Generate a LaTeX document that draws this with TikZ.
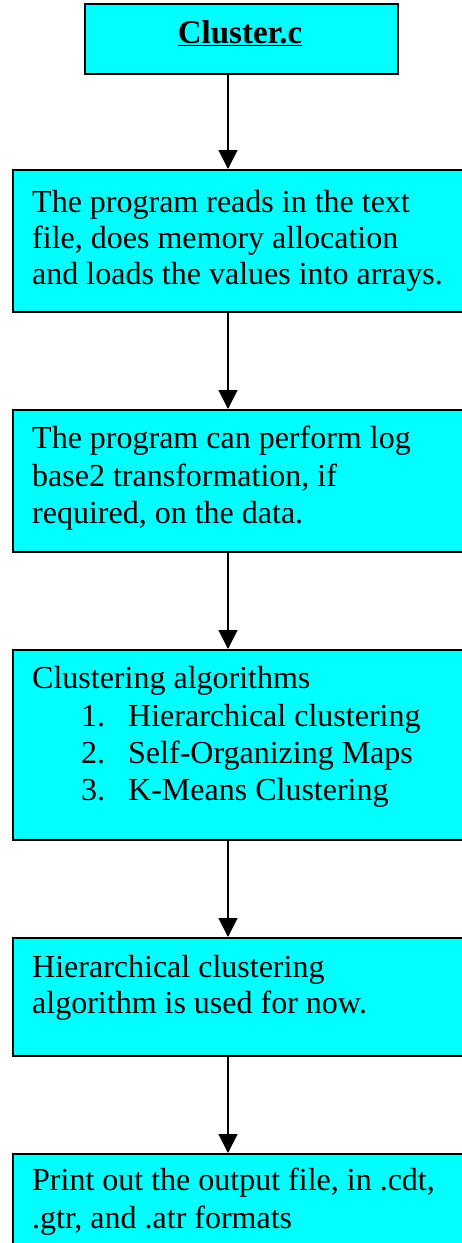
\documentclass[tikz,border=0pt]{standalone}
\usepackage{fontspec}
\setmainfont{Liberation Serif}
\usetikzlibrary{arrows.meta}
\definecolor{cyan}{RGB}{0,255,255}
\tikzset{
  box/.style={draw=black, line width=2pt, fill=cyan, rectangle, inner sep=0pt, anchor=north west},
  txt/.style={anchor=base west, inner sep=0pt, font=\fontsize{32}{36}\selectfont},
  arr/.style={line width=1.6pt, -{Triangle[width=19pt,length=19pt]}},
}
\begin{document}
\begin{tikzpicture}[x=1pt,y=-1pt]
\useasboundingbox (0,0) rectangle (461,1243);
\node[box, minimum width=313pt, minimum height=70pt] (b0) at (83.5,3) {};
\node[box, minimum width=463pt, minimum height=142pt] (b1) at (12,169) {};
\node[box, minimum width=463pt, minimum height=142pt] (b2) at (12,409) {};
\node[box, minimum width=463pt, minimum height=190pt] (b3) at (12,649) {};
\node[box, minimum width=463pt, minimum height=118pt] (b4) at (12,937) {};
\node[box, minimum width=463pt, minimum height=120pt] (b5) at (12,1153) {};
\coordinate (ax) at (228,0);
\draw[arr] (b0.south -| ax) -- (b1.north -| ax);
\draw[arr] (b1.south -| ax) -- (b2.north -| ax);
\draw[arr] (b2.south -| ax) -- (b3.north -| ax);
\draw[arr] (b3.south -| ax) -- (b4.north -| ax);
\draw[arr] (b4.south -| ax) -- (b5.north -| ax);
\node[anchor=base, inner sep=0pt, font=\fontsize{33}{40}\selectfont\bfseries] (t0) at (240,43) {\underline{Cluster.c}};
\node[txt] (t1a) at (32,212) {The program reads in the text};
\node[txt] (t1b) at (32,248) {file, does memory allocation};
\node[txt] (t1c) at (32,284) {and loads the values into arrays.};
\node[txt] (t2a) at (32,448) {The program can perform log};
\node[txt] (t2b) at (32,486) {base2 transformation, if};
\node[txt] (t2c) at (32,523) {required, on the data.};
\node[txt] (t3a) at (32,688) {Clustering algorithms};
\node[txt] (n1) at (81,726) {1.};
\node[txt] (t3b) at (128,726) {Hierarchical clustering};
\node[txt] (n2) at (81,763) {2.};
\node[txt] (t3c) at (128,763) {Self-Organizing Maps};
\node[txt] (n3) at (81,800) {3.};
\node[txt] (t3d) at (128,800) {K-Means Clustering};
\node[txt] (t4a) at (32,977) {Hierarchical clustering};
\node[txt] (t4b) at (32,1013) {algorithm is used for now.};
\node[txt] (t5a) at (32,1190) {Print out the output file, in .cdt,};
\node[txt] (t5b) at (32,1228) {.gtr, and .atr formats};
\end{tikzpicture}
\end{document}
